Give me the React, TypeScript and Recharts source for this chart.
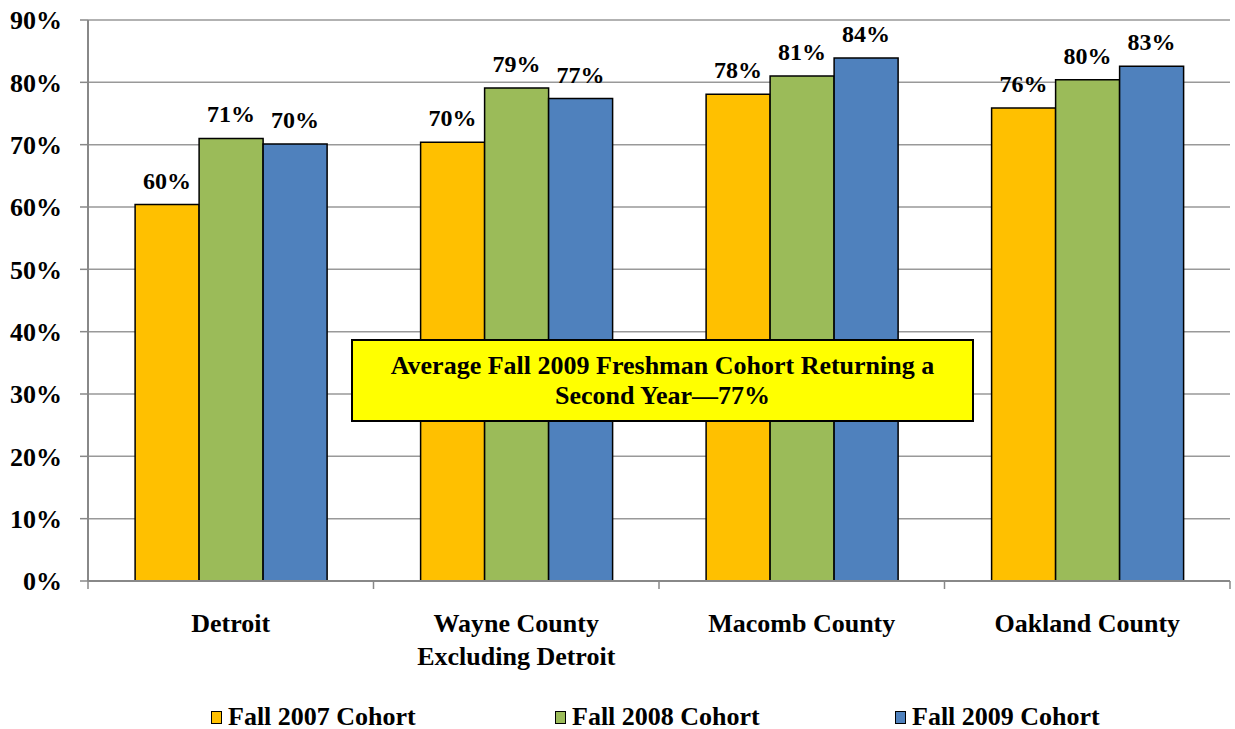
import React from 'react';
import { BarChart, Bar, XAxis, YAxis, CartesianGrid, Legend, LabelList } from 'recharts';

const categories = ['Detroit', 'Wayne County\nExcluding Detroit', 'Macomb County', 'Oakland County'];
const fall2007 = [60.4, 70.4, 78.1, 75.9];
const fall2008 = [71.0, 79.1, 81.0, 80.4];
const fall2009 = [70.1, 77.4, 83.9, 82.6];
const yTicks = [0, 10, 20, 30, 40, 50, 60, 70, 80, 90];
// integer positions are category boundaries, halves are category centres
const xTicks = [0, 0.5, 1, 1.5, 2, 2.5, 3, 3.5, 4];

const seriesInfo = [
  { key: 'fall2007', name: 'Fall 2007 Cohort', color: '#FFC000' },
  { key: 'fall2008', name: 'Fall 2008 Cohort', color: '#9BBB59' },
  { key: 'fall2009', name: 'Fall 2009 Cohort', color: '#4F81BD' },
];

const data = categories.map((c, i) => ({
  name: c,
  idx: i + 0.5,
  fall2007: fall2007[i],
  fall2008: fall2008[i],
  fall2009: fall2009[i],
}));

const FONT = '"Liberation Serif", "Times New Roman", serif';

const XTick = (props: any) => {
  const { x, y, payload } = props;
  const v = Number(payload.value);
  if (Number.isInteger(v)) {
    return <line x1={x} x2={x} y1={y} y2={y + 8} stroke="#888" strokeWidth={1.5} />;
  }
  const lines = categories[Math.floor(v)].split('\n');
  return (
    <g>
      {lines.map((line, i) => (
        <text
          key={i}
          x={x}
          y={y + 51 + i * 33}
          textAnchor="middle"
          fontFamily={FONT}
          fontWeight="bold"
          fontSize={26}
          fill="#000"
        >
          {line}
        </text>
      ))}
    </g>
  );
};

const legendLeft = [211, 555, 895];

const LegendContent = () => (
  <div style={{ position: 'relative', height: 24, fontFamily: FONT, fontWeight: 'bold', fontSize: 26 }}>
    {seriesInfo.map((s, i) => (
      <div
        key={s.key}
        style={{ position: 'absolute', left: legendLeft[i], top: 0, display: 'flex', alignItems: 'center', height: 24, whiteSpace: 'nowrap' }}
      >
        <span
          style={{
            display: 'inline-block',
            width: 9,
            height: 11,
            background: s.color,
            border: '1.5px solid #000',
            marginRight: 6,
          }}
        />
        <span>{s.name}</span>
      </div>
    ))}
  </div>
);

const App: React.FC = () => {
  return (
    <div style={{ position: 'absolute', left: 0, top: 0, width: 1235, height: 729, background: '#fff' }}>
      <BarChart
        width={1235}
        height={729}
        data={data}
        margin={{ top: 20, right: 5, left: 0, bottom: 0 }}
        barCategoryGap="16.5%"
        barGap={0}
      >
        <CartesianGrid vertical={false} stroke="#999" strokeWidth={1.5} />
        <XAxis xAxisId="cat" dataKey="name" hide height={0} />
        <XAxis
          xAxisId="lbl"
          type="number"
          dataKey="idx"
          domain={[0, 4]}
          ticks={xTicks}
          interval={0}
          tickLine={false}
          tickSize={0}
          tickMargin={0}
          tick={<XTick />}
          height={124}
          axisLine={{ stroke: '#888', strokeWidth: 2 }}
        />
        <YAxis
          domain={[0, 90]}
          ticks={yTicks}
          width={88}
          tickSize={8}
          tickMargin={18}
          tickFormatter={(v: number) => `${v}%`}
          axisLine={{ stroke: '#888', strokeWidth: 2 }}
          tickLine={{ stroke: '#888', strokeWidth: 1.5 }}
          tick={{ fontFamily: FONT, fontWeight: 'bold', fontSize: 26, fill: '#000' }}
        />
        <Legend verticalAlign="bottom" height={24} content={<LegendContent />} />
        {seriesInfo.map((s) => (
          <Bar
            key={s.key}
            xAxisId="cat"
            dataKey={s.key}
            name={s.name}
            fill={s.color}
            stroke="#000"
            strokeWidth={1.5}
            isAnimationActive={false}
          >
            <LabelList
              dataKey={s.key}
              position="top"
              offset={16}
              formatter={(v: any) => `${Math.round(Number(v))}%`}
              style={{ fontFamily: FONT, fontWeight: 'bold', fontSize: 24, fill: '#000' }}
            />
          </Bar>
        ))}
      </BarChart>
      <div
        style={{
          position: 'absolute',
          left: 351,
          top: 339,
          width: 619,
          height: 79,
          border: '2px solid #000',
          background: '#FFFF00',
          fontFamily: FONT,
          fontWeight: 'bold',
          fontSize: 26,
          lineHeight: '30px',
          textAlign: 'center',
          display: 'flex',
          alignItems: 'center',
          justifyContent: 'center',
        }}
      >
        <div>
          Average Fall 2009 Freshman Cohort Returning a
          <br />
          Second Year—77%
        </div>
      </div>
    </div>
  );
};

export default App;
